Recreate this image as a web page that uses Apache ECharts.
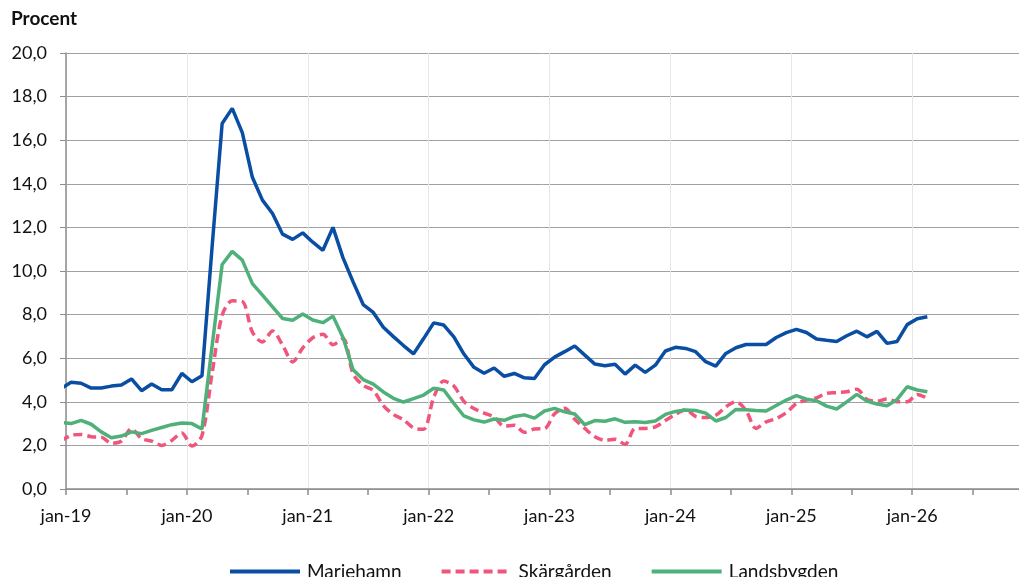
<!DOCTYPE html>
<html lang="sv">
<head>
<meta charset="UTF-8">
<title>Procent</title>
<style>
	html, body { margin: 0; padding: 0; background: #fff; }
</style>
</head>
<body>

	<div id="main" style="width: 1019px; height: 577px;"></div>

	<script src="https://cdn.jsdelivr.net/npm/echarts@6.0.0/dist/echarts.min.js"></script>
	<script type="text/javascript">
		// månadsvärden, första värdet = dec-18 (klipps vid axeln), sista = feb-26
		var mariehamn = [4.6, 4.9, 4.85, 4.63, 4.63, 4.72, 4.77, 5.05, 4.51, 4.82, 4.55, 4.55, 5.3, 4.92, 5.2,
			11.1, 16.77, 17.46, 16.35, 14.3, 13.25, 12.64, 11.69, 11.45, 11.75, 11.32, 10.95, 12.0,
			10.6, 9.5, 8.46, 8.1, 7.42, 6.99, 6.58, 6.2, 6.9,
			7.62, 7.52, 6.98, 6.19, 5.58, 5.31, 5.55, 5.17, 5.3, 5.1, 5.07, 5.7,
			6.05, 6.3, 6.56, 6.14, 5.73, 5.65, 5.72, 5.27, 5.68, 5.35, 5.68, 6.33,
			6.5, 6.45, 6.3, 5.84, 5.64, 6.22, 6.48, 6.63, 6.63, 6.63, 6.95, 7.17,
			7.32, 7.18, 6.88, 6.82, 6.77, 7.03, 7.24, 6.98, 7.23, 6.68, 6.77, 7.54, 7.81, 7.9];
		var skargarden = [2.2, 2.46, 2.5, 2.4, 2.38, 2.1, 2.2, 2.77, 2.31, 2.2, 2.0, 2.23, 2.57, 1.97, 2.45,
			5.3, 7.97, 8.63, 8.6, 7.2, 6.74, 7.25, 6.6, 5.83, 6.47, 6.94, 7.1, 6.62,
			6.9, 5.28, 4.75, 4.52, 3.83, 3.42, 3.18, 2.8, 2.74,
			4.2, 4.95, 4.72, 4.02, 3.69, 3.48, 3.3, 2.88, 2.93, 2.6, 2.75, 2.77,
			3.45, 3.7, 3.2, 2.78, 2.4, 2.23, 2.28, 2.05, 2.78, 2.78, 2.85, 3.14,
			3.42, 3.64, 3.33, 3.28, 3.38, 3.77, 4.0, 3.6, 2.78, 3.08, 3.23, 3.5,
			3.92, 4.08, 4.18, 4.39, 4.42, 4.46, 4.58, 4.11, 4.03, 4.13, 4.0, 4.0, 4.34, 4.16];
		var landsbygden = [3.05, 3.0, 3.15, 2.97, 2.62, 2.35, 2.43, 2.62, 2.54, 2.69, 2.82, 2.95, 3.03, 3.0, 2.75,
			6.55, 10.3, 10.9, 10.5, 9.42, 8.89, 8.35, 7.82, 7.74, 8.03, 7.75, 7.63, 7.93,
			6.95, 5.47, 5.02, 4.81, 4.45, 4.16, 3.99, 4.15, 4.31,
			4.62, 4.54, 3.93, 3.35, 3.17, 3.07, 3.21, 3.15, 3.33, 3.4, 3.25, 3.58,
			3.7, 3.54, 3.44, 2.95, 3.14, 3.11, 3.22, 3.06, 3.09, 3.05, 3.12, 3.42,
			3.56, 3.62, 3.6, 3.48, 3.12, 3.28, 3.65, 3.64, 3.6, 3.58, 3.83, 4.08,
			4.28, 4.12, 4.05, 3.8, 3.67, 4.0, 4.34, 4.03, 3.9, 3.82, 4.11, 4.69, 4.54, 4.46];
		var yearLabels = ['jan-19', 'jan-20', 'jan-21', 'jan-22', 'jan-23', 'jan-24', 'jan-25', 'jan-26'];
		var seriesNames = ['Mariehamn', 'Skärgården', 'Landsbygden'];

		// punkterna ligger mitt i månaden, x = månader från jan-19
		function toPoints(values) {
			return values.map(function (v, i) { return [i - 0.5, v]; });
		}

		var font = 'Lato, "Noto Sans", sans-serif';
		var myChart = echarts.init(document.getElementById('main'));

		var option = {
			animation: false,
			grid: { left: 66, right: 0, top: 53, bottom: 88 },
			graphic: [{
				type: 'text', left: 11, top: 9,
				style: { text: 'Procent', font: 'bold 19px ' + font, fill: '#111' }
			}],
			legend: {
				left: 228, top: 562, padding: 0,
				itemWidth: 70, itemHeight: 14, itemGap: 38,
				itemStyle: { opacity: 0 },
				lineStyle: { width: 4 },
				textStyle: { fontFamily: font, fontSize: 19, color: '#111', padding: [0, 0, 0, 2] },
				data: seriesNames
			},
			xAxis: [{
				type: 'value', min: 0, max: 94.6, interval: 6,
				axisLine: { lineStyle: { color: '#8c8c8c', width: 1.5 } },
				axisTick: { show: true, length: 6, lineStyle: { color: '#8c8c8c', width: 1.5 } },
				axisLabel: {
					margin: 18, fontFamily: font, fontSize: 18, color: '#111',
					showMaxLabel: false,
					formatter: function (v) {
						return v % 12 === 0 ? (yearLabels[v / 12] || '') : '';
					}
				},
				splitLine: { show: false }
			}, {
				// ljusa lodräta linjer vid varje januari
				type: 'value', min: 0, max: 94.6, interval: 12, position: 'bottom',
				axisLine: { show: false }, axisTick: { show: false }, axisLabel: { show: false },
				splitLine: { show: true, lineStyle: { color: '#e6e6e6', width: 1 } }
			}],
			yAxis: {
				type: 'value', min: 0, max: 20, interval: 2,
				axisLine: { show: true, lineStyle: { color: '#8c8c8c', width: 1.5 } },
				axisTick: { show: true, length: 6, lineStyle: { color: '#8c8c8c' } },
				axisLabel: {
					margin: 19, fontFamily: font, fontSize: 18, color: '#111',
					formatter: function (v) { return v.toFixed(1).replace('.', ','); }
				},
				splitLine: { lineStyle: { color: '#a0a0a0', width: 1 } }
			},
			series: [{
				name: seriesNames[0], type: 'line', xAxisIndex: 0,
				data: toPoints(mariehamn), symbol: 'none',
				lineStyle: { color: '#0a4ea3', width: 3.5 }, itemStyle: { color: '#0a4ea3' }
			}, {
				name: seriesNames[1], type: 'line', xAxisIndex: 0,
				data: toPoints(skargarden), symbol: 'none', smooth: 0.3,
				lineStyle: { color: '#f0567c', width: 3.5, type: [9, 5] }, itemStyle: { color: '#f0567c' }
			}, {
				name: seriesNames[2], type: 'line', xAxisIndex: 0,
				data: toPoints(landsbygden), symbol: 'none',
				lineStyle: { color: '#4fb07a', width: 3.5 }, itemStyle: { color: '#4fb07a' }
			}]
		};

		myChart.setOption(option);
	</script>
</body>
</html>
